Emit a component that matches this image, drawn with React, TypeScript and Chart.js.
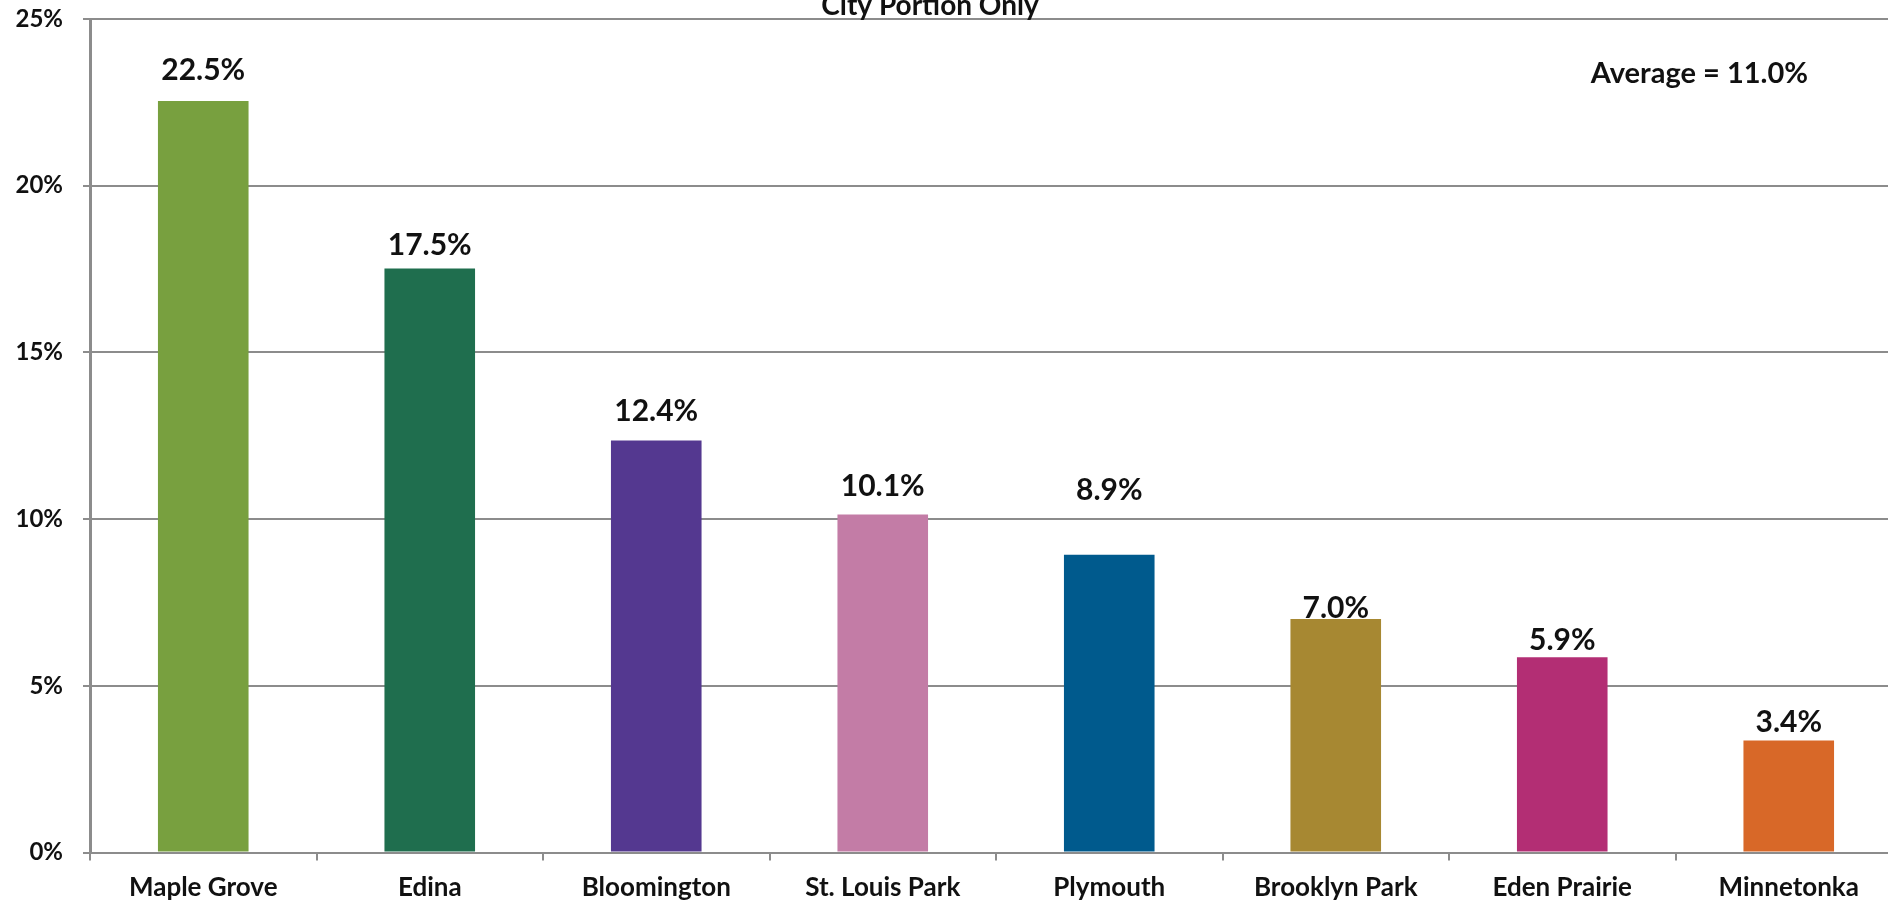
import React, { useEffect, useRef } from "react";
import { Chart, registerables } from "chart.js";

Chart.register(...registerables);

const cities = [
  "Maple Grove",
  "Edina",
  "Bloomington",
  "St. Louis Park",
  "Plymouth",
  "Brooklyn Park",
  "Eden Prairie",
  "Minnetonka",
];
const changePct = [22.54, 17.52, 12.36, 10.14, 8.93, 7.0, 5.86, 3.36];
const barColors = [
  "#78A03F",
  "#1F6E4E",
  "#543890",
  "#C37CA6",
  "#005A8D",
  "#A78832",
  "#B32E74",
  "#D86828",
];
const yTicks = [0, 5, 10, 15, 20, 25];
const averageValue = 11.0;
const chartTitle = "City Portion Only";

// style: gap (px) between bar top and label baseline, as placed in the original
const labelGaps = [21, 13, 19, 18, 55, 1, 7, 8];

const FONT = "Lato, 'Open Sans', sans-serif";
const GRID = "#8C8C8C";

const labelsPlugin = {
  id: "customLabels",
  afterDatasetsDraw(chart: any) {
    const ctx = chart.ctx;
    const meta = chart.getDatasetMeta(0);
    ctx.save();
    ctx.fillStyle = "#111";
    ctx.font = `bold 30px ${FONT}`;
    ctx.textAlign = "center";
    ctx.textBaseline = "alphabetic";
    meta.data.forEach((bar: any, i: number) => {
      const v = changePct[i];
      const txt = (Math.round(v * 10) / 10).toFixed(1) + "%";
      ctx.fillText(txt, bar.x, bar.y - labelGaps[i]);
    });
    const ca = chart.chartArea;
    ctx.font = `bold 29px ${FONT}`;
    ctx.textAlign = "right";
    ctx.fillText(`Average = ${averageValue.toFixed(1)}%`, ca.right - 94, ca.top + 64);
    ctx.font = `bold 28px ${FONT}`;
    ctx.textAlign = "center";
    ctx.fillText(chartTitle, (ca.left + ca.right) / 2 - 66, ca.top - 4);
    ctx.restore();
  },
};

export default function App() {
  const ref = useRef<HTMLCanvasElement | null>(null);
  useEffect(() => {
    if (!ref.current) return;
    const chart = new Chart(ref.current, {
      type: "bar",
      data: {
        labels: cities,
        datasets: [
          {
            data: changePct,
            backgroundColor: barColors,
            barPercentage: 0.4,
            categoryPercentage: 1,
          },
        ],
      },
      options: {
        animation: false,
        responsive: false,
        devicePixelRatio: 1,
        layout: { padding: { top: 19, left: 0, right: 0, bottom: 0 } },
        plugins: {
          legend: { display: false },
          tooltip: { enabled: false },
          title: { display: false },
        },
        scales: {
          x: {
            grid: {
              display: true,
              drawOnChartArea: false,
              drawTicks: true,
              tickLength: 8,
              color: GRID,
              lineWidth: 2,
              offset: true,
            },
            border: { display: true, color: GRID, width: 2 },
            ticks: {
              color: "#111",
              font: { family: FONT, size: 26, weight: "bold" },
              padding: 12,
              maxRotation: 0,
              autoSkip: false,
            },
            afterFit(scale: any) {
              scale.height = 51.5;
              scale.paddingLeft = 0;
              scale.paddingRight = 0;
            },
          },
          y: {
            min: 0,
            max: 25,
            afterBuildTicks(scale: any) {
              scale.ticks = yTicks.map((v) => ({ value: v }));
            },
            grid: {
              color: GRID,
              lineWidth: 2,
              drawTicks: true,
              tickLength: 7,
            },
            border: { display: true, color: GRID, width: 3 },
            ticks: {
              color: "#111",
              font: { family: FONT, size: 24, weight: "bold" },
              padding: 20,
              callback: (v: any) => `${v}%`,
            },
            afterFit(scale: any) {
              scale.width = 90;
              scale.paddingTop = 0;
              scale.paddingBottom = 0;
            },
          },
        },
      },
      plugins: [labelsPlugin],
    });
    return () => chart.destroy();
  }, []);

  return (
    <div
      style={{
        position: "fixed",
        left: 0,
        top: 0,
        width: 1888,
        height: 904,
        overflow: "hidden",
        background: "#fff",
      }}
    >
      <canvas ref={ref} width={1902} height={904} style={{ display: "block" }} />
    </div>
  );
}
